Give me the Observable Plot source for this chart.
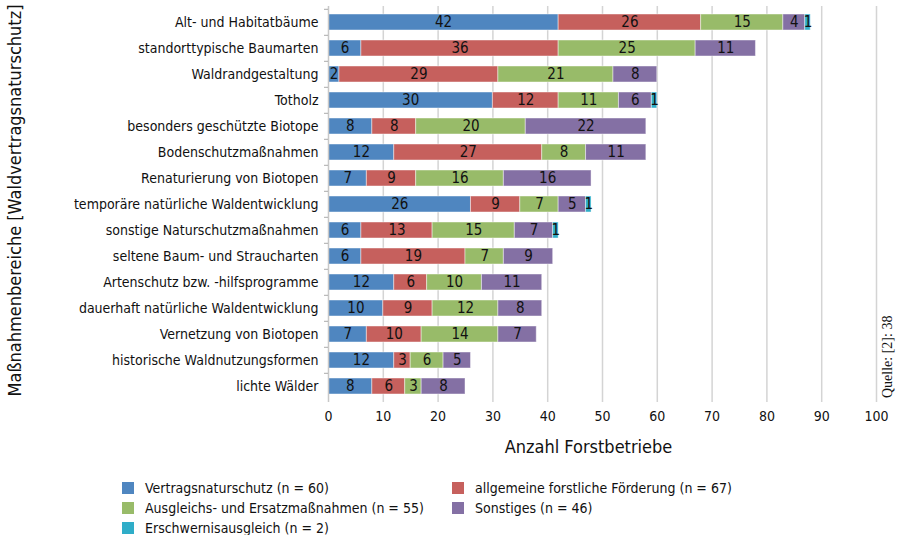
<!DOCTYPE html>
<html><head><meta charset="utf-8">
<script src="https://cdn.jsdelivr.net/npm/d3@7"></script>
<script src="https://cdn.jsdelivr.net/npm/@observablehq/plot@0.6"></script>
<style>
body{margin:0;background:#fff;font-family:"Liberation Sans Narrow","Arial Narrow","DejaVu Sans Condensed",sans-serif;}
#wrap{position:relative;width:903px;height:535px;}
#legend{position:absolute;left:122px;top:479px;display:grid;grid-template-columns:330px 300px;row-gap:3px;font-size:14px;color:#111;}
.item{display:flex;align-items:center;height:17px;}
.sw{width:12px;height:12px;margin-right:11px;flex:none;}
#quelle{position:absolute;left:880px;top:398px;transform-origin:0 0;transform:rotate(-90deg);font-family:"Liberation Serif","DejaVu Serif",serif;font-size:14px;white-space:nowrap;color:#111;}
</style></head>
<body><div id="wrap"><div id="chart"></div><div id="legend"></div><div id="quelle">Quelle: [2]: 38</div></div>
<script>
const categories = ["Alt- und Habitatbäume","standorttypische Baumarten","Waldrandgestaltung","Totholz","besonders geschützte Biotope","Bodenschutzmaßnahmen","Renaturierung von Biotopen","temporäre natürliche Waldentwicklung","sonstige Naturschutzmaßnahmen","seltene Baum- und Straucharten","Artenschutz bzw. -hilfsprogramme","dauerhaft natürliche Waldentwicklung","Vernetzung von Biotopen","historische Waldnutzungsformen","lichte Wälder"];
const series = ["Vertragsnaturschutz","allgemeine forstliche Förderung","Ausgleichs- und Ersatzmaßnahmen","Sonstiges","Erschwernisausgleich"];
const legendLabels = ["Vertragsnaturschutz (n = 60)","allgemeine forstliche Förderung (n = 67)","Ausgleichs- und Ersatzmaßnahmen (n = 55)","Sonstiges (n = 46)","Erschwernisausgleich (n = 2)"];
const colors = ["#4f86c0","#c6605d","#98bb69","#8470a4","#2fadc8"];
const vertragsnaturschutz = [42,6,2,30,8,12,7,26,6,6,12,10,7,12,8];
const forstlicheFoerderung = [26,36,29,12,8,27,9,9,13,19,6,9,10,3,6];
const ausgleich = [15,25,21,11,20,8,16,7,15,7,10,12,14,6,3];
const sonstiges = [4,11,8,6,22,11,16,5,7,9,11,8,7,5,8];
const erschwernis = [1,0,0,1,0,0,0,1,1,0,0,0,0,0,0];
const xTicks = [0,10,20,30,40,50,60,70,80,90,100];

const cols = [vertragsnaturschutz, forstlicheFoerderung, ausgleich, sonstiges, erschwernis];
const data = [];
categories.forEach((c,i)=>cols.forEach((arr,s)=>{ if(arr[i]>0) data.push({cat:c, series:series[s], value:arr[i]}); }));

const font = '"Liberation Sans Narrow","Arial Narrow","DejaVu Sans Condensed",sans-serif';
const chart = Plot.plot({
  width:903, height:470,
  marginTop:6, marginBottom:68, marginLeft:328, marginRight:27,
  style:{fontFamily:font, fontSize:"14px", color:"#111", background:"#fff"},
  x:{domain:[0,100], ticks:xTicks, label:null},
  y:{domain:categories, paddingInner:0.38, paddingOuter:0.19, label:null},
  color:{domain:series, range:colors},
  marks:[
    Plot.gridX(xTicks.filter(d=>d>0), {stroke:"#d4d4d4", strokeOpacity:1, strokeWidth:1.5}),
    Plot.barX(data, Plot.stackX({x:"value", y:"cat", fill:"series", order:series, stroke:"#fff", strokeOpacity:0.45, strokeWidth:1})),
    Plot.text(data, Plot.stackX({x:"value", y:"cat", z:"series", order:series, text:"value", fill:"#111", fontSize:15})),
    Plot.ruleX([0], {stroke:"#c8c8c8", strokeWidth:1.5}),
    Plot.ruleY([0], {y:()=>0, frameAnchor:"bottom", stroke:"#c8c8c8", strokeWidth:1.5}),
    Plot.axisX({ticks:xTicks, tickSize:0, tickPadding:9, fontSize:14, label:null}),
    Plot.axisY({tickSize:0, tickPadding:10, fontSize:14, label:null}),
    Plot.axisY({tickSize:4, tickFormat:()=>"", stroke:"#aaa", dy:-13.2, label:null}),
    Plot.text(["Anzahl Forstbetriebe"], {frameAnchor:"bottom", dy:50, dx:-14, fontSize:18, fill:"#111"}),
    Plot.text(["Maßnahmenbereiche [Waldvertragsnaturschutz]"], {frameAnchor:"left", textAnchor:"middle", dx:-313, dy:-4, rotate:-90, fontSize:18, fill:"#111"})
  ]
});
document.getElementById("chart").appendChild(chart);

const leg = document.getElementById("legend");
[0,1,2,3,4].forEach(i=>{
  const d = document.createElement("div"); d.className="item";
  d.innerHTML = `<span class="sw" style="background:${colors[i]}"></span><span>${legendLabels[i]}</span>`;
  leg.appendChild(d);
});
</script></body></html>
